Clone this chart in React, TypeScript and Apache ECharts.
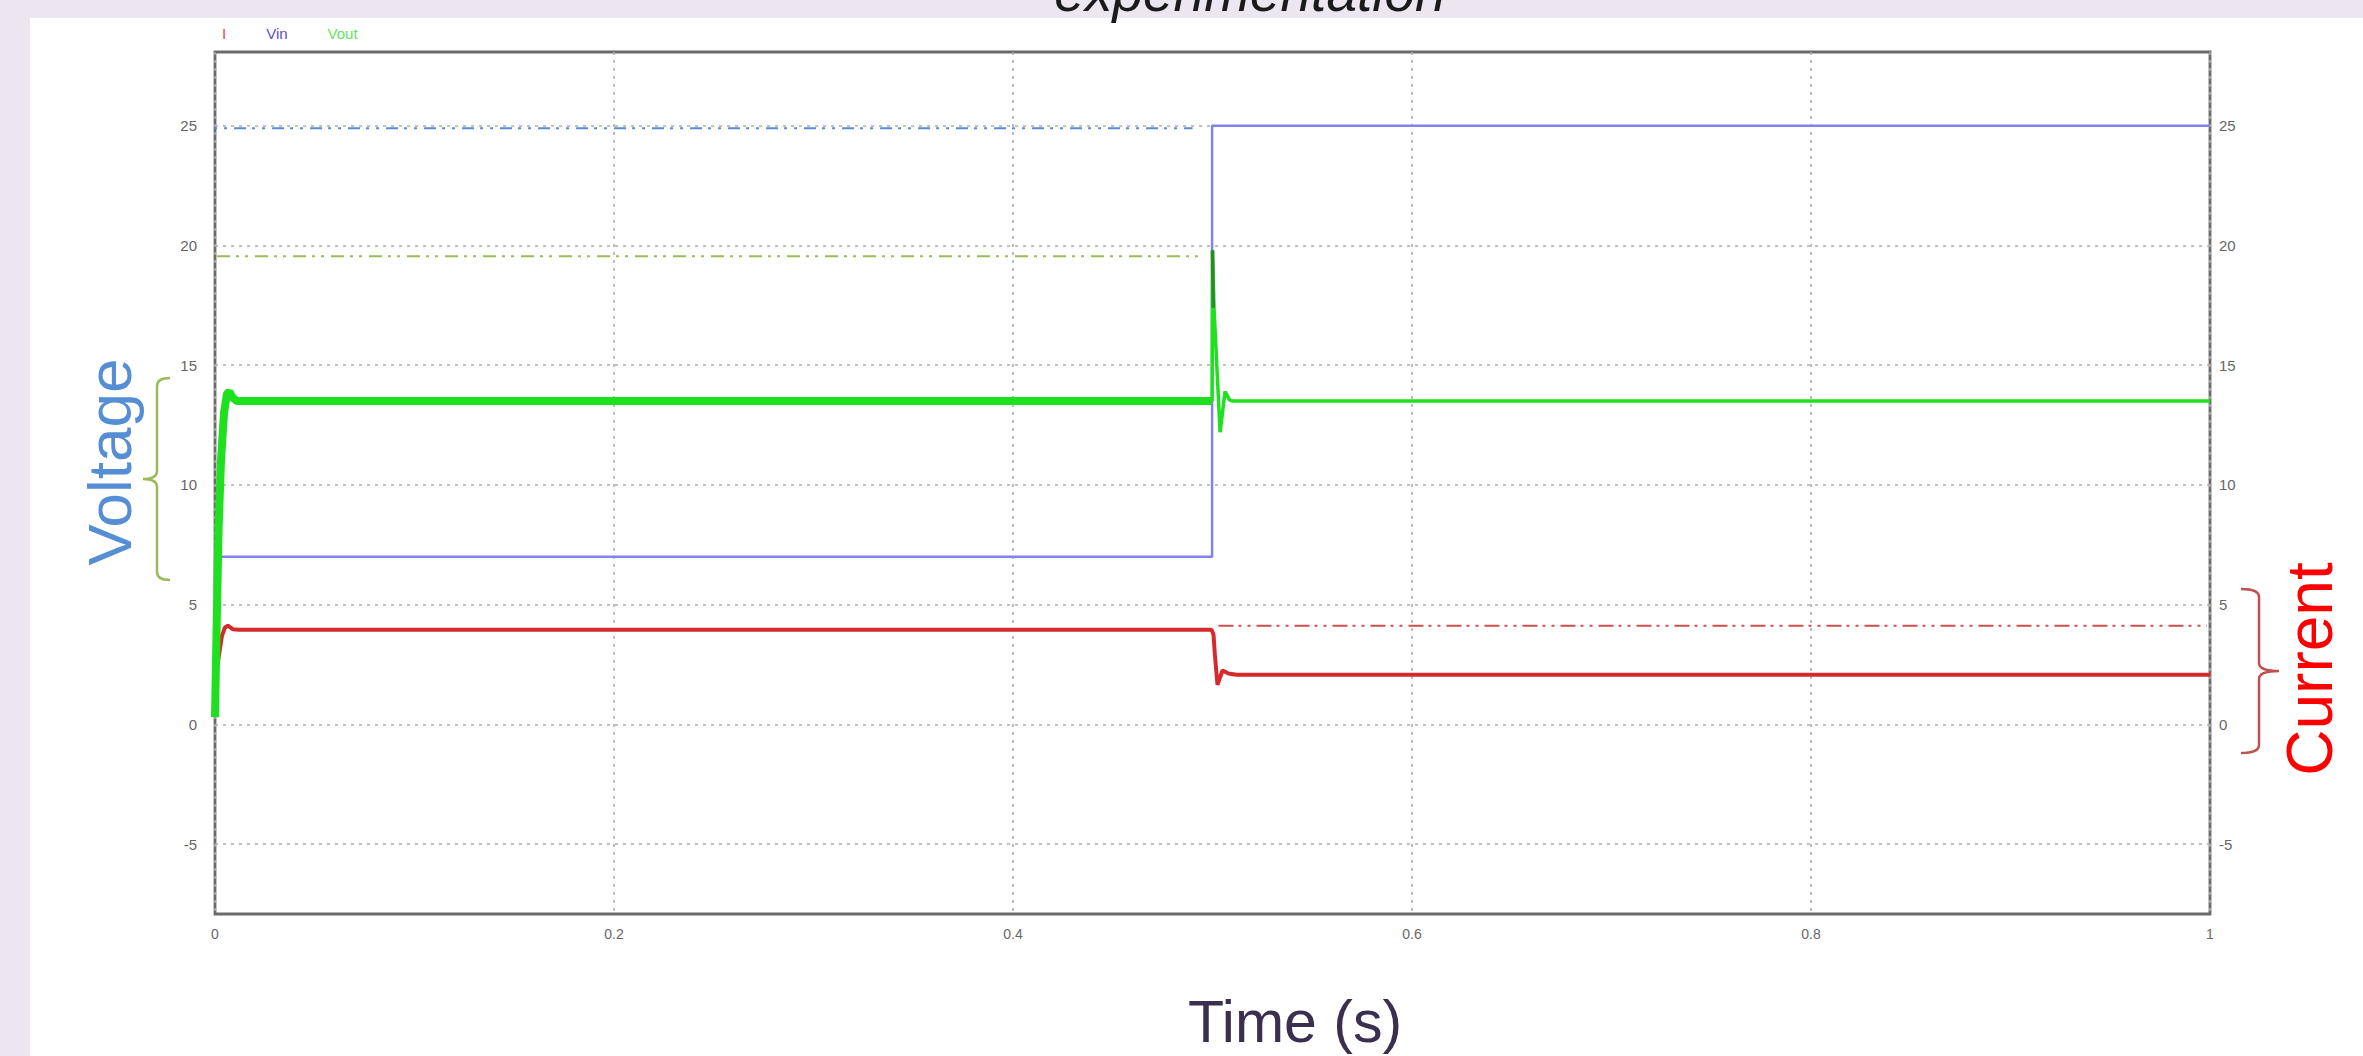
import React, { useEffect, useRef } from "react";
import * as echarts from "echarts";

// ---------------- data ----------------
const timeTicks = [0, 0.2, 0.4, 0.6, 0.8, 1];
const valueTicks = [-5, 0, 5, 10, 15, 20, 25];
const yRange = [-7.92, 28.08];

const legendNames = ["I", "Vin", "Vout"];

// input voltage step (V)
const vinData = [
  [0, 1.2],
  [0, 7.0],
  [0.4998, 7.0],
  [0.4998, 25.0],
  [1, 25.0],
];

// inductor / output current (A)
const currentData = [
  [0, 1.2],
  [0.001, 2.3],
  [0.002, 2.9],
  [0.0035, 3.7],
  [0.005, 4.05],
  [0.0065, 4.12],
  [0.009, 3.97],
  [0.012, 3.95],
  [0.4995, 3.95],
  [0.5005, 3.75],
  [0.5012, 2.9],
  [0.5025, 1.65],
  [0.505, 2.25],
  [0.508, 2.12],
  [0.512, 2.07],
  [1, 2.07],
];

// output voltage, first half (large ripple band)
const voutFirst = [
  [0, 0.3],
  [0.0008, 4.0],
  [0.0018, 8.2],
  [0.003, 11.0],
  [0.0045, 13.0],
  [0.006, 13.8],
  [0.0072, 13.9],
  [0.0088, 13.65],
  [0.011, 13.5],
  [0.4998, 13.5],
];

// output voltage, after the step
const voutSecond = [
  [0.4998, 13.5],
  [0.5, 19.8],
  [0.5008, 17.3],
  [0.5038, 12.2],
  [0.5063, 13.9],
  [0.5085, 13.55],
  [0.5103, 13.5],
  [1, 13.5],
];

// dark part of the output spike
const voutSpike = [
  [0.5, 19.8],
  [0.5004, 17.4],
];

// dash-dot reference levels
const refVin = [
  [-0.0095, 24.9],
  [0.49, 24.9],
];
const refVout = [
  [0.001, 19.55],
  [0.4937, 19.55],
];
const refCurrent = [
  [0.503, 4.12],
  [0.9985, 4.12],
];

// ---------------- styles ----------------
const FONT = "'Liberation Sans', Arial, sans-serif";
const COLOR_I = "#d42a2c";
const COLOR_VIN = "#8282ee";
const COLOR_VOUT = "#1fe01f";
const LAVENDER = "#ebe6f0";

const braceVoltage =
  "M170 378 C162 378 157 380 157 386 L157 471 C157 476 152 479 143 479 C152 479 157 482 157 487 L157 572 C157 578 162 580 170 580";
const braceCurrent =
  "M2241 589 C2250 589 2259 591 2259 597 L2259 663 C2259 668 2266 671 2279 671 C2266 671 2259 674 2259 679 L2259 745 C2259 751 2250 753 2241 753";

let shapesRegistered = false;
function registerShapes() {
  if (shapesRegistered) return;
  echarts.graphic.registerShape("braceV", echarts.graphic.extendPath(braceVoltage, {}));
  echarts.graphic.registerShape("braceC", echarts.graphic.extendPath(braceCurrent, {}));
  shapesRegistered = true;
}

const fmtValue = (v: number) => {
  const r = Math.round(v * 1000) / 1000;
  return valueTicks.includes(r) ? String(r) : "";
};

const fmtTime = (v: number) => {
  const r = Math.round(v * 1000) / 1000;
  return timeTicks.includes(r) ? String(r) : "";
};

export default function App() {
  const ref = useRef<HTMLDivElement>(null);

  useEffect(() => {
    if (!ref.current) return;
    registerShapes();
    const chart = echarts.init(ref.current, null, { renderer: "svg" });

    const dotted = { color: "#adadad", width: 1.6, type: [3, 5] as number[] };

    const option: any = {
      animation: false,
      backgroundColor: "#ffffff",
      textStyle: { fontFamily: FONT },
      grid: {
        left: 215,
        right: 153,
        top: 52,
        bottom: 140,
        show: true,
        backgroundColor: "#ffffff",
        borderColor: "#6a6a6a",
        borderWidth: 2.8,
        containLabel: false,
      },
      legend: {
        left: 212,
        top: 21,
        icon: "rect",
        itemWidth: 0,
        itemHeight: 0,
        itemGap: 35,
        selectedMode: false,
        textStyle: { fontSize: 15, fontFamily: FONT },
        data: [
          { name: legendNames[0], textStyle: { color: "#e8464a" } },
          { name: legendNames[1], textStyle: { color: "#5a50d6" } },
          { name: legendNames[2], textStyle: { color: "#62e462" } },
        ],
      },
      xAxis: {
        type: "value",
        min: timeTicks[0],
        max: timeTicks[timeTicks.length - 1],
        interval: 0.2,
        name: "Time (s)",
        nameLocation: "middle",
        nameGap: 78,
        nameTextStyle: {
          fontSize: 59,
          color: "#3b2f4f",
          fontFamily: FONT,
          padding: [0, 0, 0, 165],
        },
        axisLine: { show: false },
        axisTick: { show: false },
        axisLabel: { fontSize: 14, color: "#666", margin: 13, formatter: fmtTime },
        splitLine: { show: true, lineStyle: dotted },
      },
      yAxis: [
        {
          type: "value",
          position: "left",
          min: yRange[0],
          max: yRange[1],
          splitNumber: 7,
          minInterval: 5,
          maxInterval: 5,
          axisLine: { show: false },
          axisTick: { show: false },
          axisLabel: {
            fontSize: 15,
            color: "#666",
            margin: 18,
            formatter: fmtValue,
            showMinLabel: false,
            showMaxLabel: false,
          },
          splitLine: { show: true, showMinLine: false, showMaxLine: false, lineStyle: dotted },
        },
        {
          type: "value",
          position: "right",
          min: yRange[0],
          max: yRange[1],
          splitNumber: 7,
          minInterval: 5,
          maxInterval: 5,
          axisLine: { show: false },
          axisTick: { show: false },
          axisLabel: {
            fontSize: 15,
            color: "#666",
            margin: 9,
            formatter: fmtValue,
            showMinLabel: false,
            showMaxLabel: false,
          },
          splitLine: { show: false },
        },
      ],
      series: [
        {
          name: "refVin",
          type: "line",
          data: refVin,
          symbol: "none",
          clip: false,
          silent: true,
          lineStyle: { color: "#5b8ad4", width: 2, type: [12, 6, 3, 7, 3, 7] },
          z: 1,
        },
        {
          name: "refVout",
          type: "line",
          data: refVout,
          symbol: "none",
          silent: true,
          lineStyle: { color: "#9bbb59", width: 2, type: [13, 6, 3, 6, 3, 7] },
          z: 1,
        },
        {
          name: "refI",
          type: "line",
          data: refCurrent,
          symbol: "none",
          silent: true,
          lineStyle: { color: "#c9504d", width: 2, type: [15, 5, 3, 6, 3, 6] },
          z: 1,
        },
        {
          name: "Vin",
          type: "line",
          data: vinData,
          symbol: "none",
          clip: false,
          itemStyle: { color: COLOR_VIN },
          lineStyle: { color: COLOR_VIN, width: 2.5 },
          z: 2,
        },
        {
          name: "I",
          type: "line",
          data: currentData,
          symbol: "none",
          itemStyle: { color: COLOR_I },
          lineStyle: { color: COLOR_I, width: 4 },
          z: 3,
        },
        {
          name: "Vout",
          type: "line",
          data: voutFirst,
          symbol: "none",
          itemStyle: { color: COLOR_VOUT },
          lineStyle: { color: COLOR_VOUT, width: 8 },
          z: 4,
        },
        {
          name: "Vout",
          type: "line",
          data: voutSecond,
          symbol: "none",
          itemStyle: { color: COLOR_VOUT },
          lineStyle: { color: COLOR_VOUT, width: 3.5 },
          z: 4,
        },
        {
          name: "VoutSpike",
          type: "line",
          data: voutSpike,
          symbol: "none",
          silent: true,
          lineStyle: { color: "#2a8a2a", width: 3.5 },
          z: 5,
        },
      ],
      graphic: [
        { type: "rect", z: 0, shape: { x: 0, y: 0, width: 2363, height: 18 }, style: { fill: LAVENDER } },
        { type: "rect", z: 0, shape: { x: 0, y: 0, width: 30, height: 1056 }, style: { fill: LAVENDER } },
        {
          type: "text",
          z: 10,
          x: 1250,
          y: -8,
          style: {
            text: "experimentation",
            fontSize: 55,
            fontStyle: "italic",
            fontFamily: FONT,
            fill: "#1a1a1a",
            align: "center",
            verticalAlign: "middle",
          },
        },
        {
          type: "text",
          z: 10,
          x: 109,
          y: 462,
          rotation: Math.PI / 2,
          style: {
            text: "Voltage",
            fontSize: 62,
            fontFamily: FONT,
            fill: "#558ed5",
            align: "center",
            verticalAlign: "middle",
          },
        },
        {
          type: "text",
          z: 10,
          x: 2310,
          y: 669,
          rotation: Math.PI / 2,
          style: {
            text: "Current",
            fontSize: 64,
            fontFamily: FONT,
            fill: "#ff0000",
            align: "center",
            verticalAlign: "middle",
          },
        },
        {
          type: "braceV",
          z: 10,
          shape: {},
          style: { stroke: "#9bbb59", fill: null, lineWidth: 2.5 },
        },
        {
          type: "braceC",
          z: 10,
          shape: {},
          style: { stroke: "#c0504d", fill: null, lineWidth: 2.5 },
        },
      ],
    };

    chart.setOption(option);
    return () => {
      chart.dispose();
    };
  }, []);

  return (
    <div
      ref={ref}
      style={{ position: "fixed", left: 0, top: 0, width: 2363, height: 1056 }}
    />
  );
}
